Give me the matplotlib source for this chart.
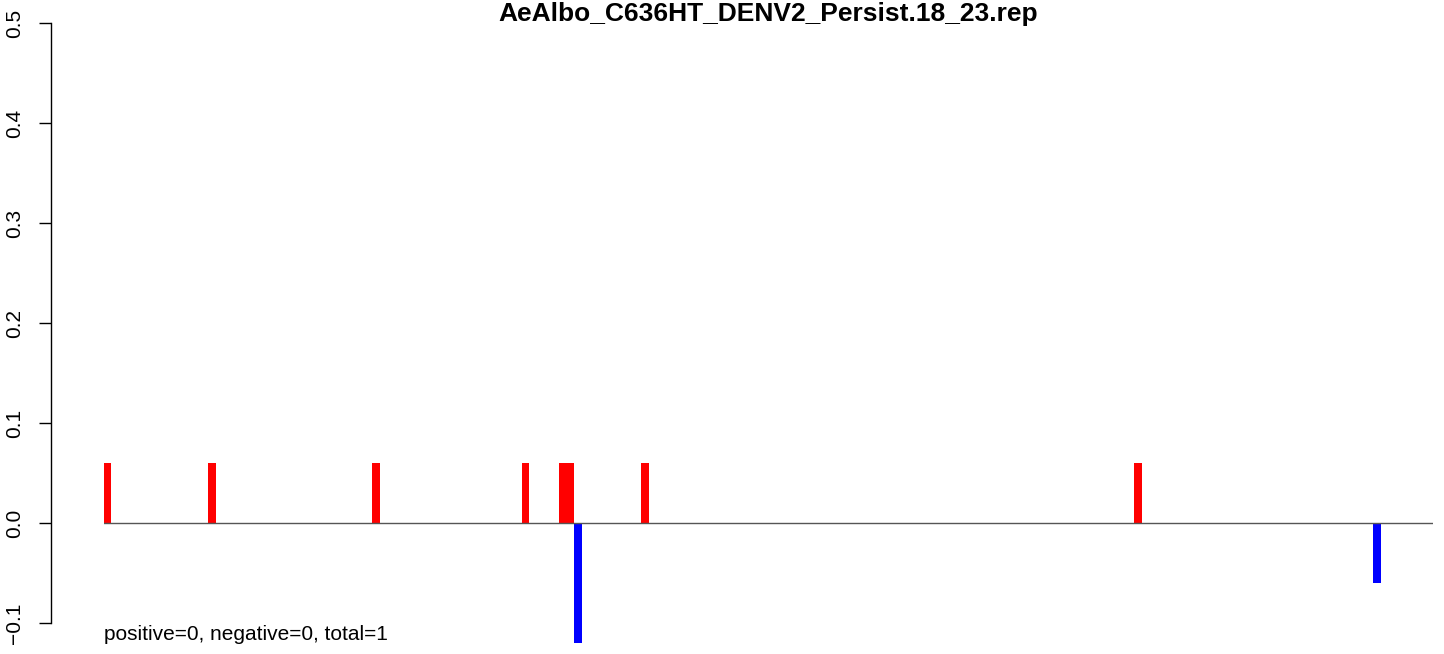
import matplotlib
matplotlib.use("Agg")
import matplotlib.pyplot as plt

# positions along the sequence (bar index) and their values
pos_idx = [0, 14, 36, 56, 61, 62, 72, 138]
pos_val = [0.06, 0.06, 0.06, 0.06, 0.06, 0.06, 0.06, 0.06]
neg_idx = [63, 170]
neg_val = [-0.12, -0.06]
seq_len = 178

title = "AeAlbo_C636HT_DENV2_Persist.18_23.rep"
note = "positive=0, negative=0, total=1"
yticks = [-0.1, 0.0, 0.1, 0.2, 0.3, 0.4, 0.5]

plt.rcParams['font.family'] = ['Liberation Sans', 'DejaVu Sans']

fig = plt.figure(figsize=(14.44, 6.54), dpi=100)
ax = fig.add_axes([103.5 / 1444, 0, (1433 - 103.5) / 1444, 1])

ax.bar(pos_idx, pos_val, width=1, align='edge', color='#ff0000', linewidth=0)
ax.bar(neg_idx, neg_val, width=1, align='edge', color='#0000ff', linewidth=0)
ax.plot([0, seq_len], [0, 0], color='#555555', linewidth=1, zorder=3)

ax.set_xlim(0, seq_len)
ax.set_ylim(-0.131, 0.523)

for s in ['top', 'right', 'bottom']:
    ax.spines[s].set_visible(False)
# y axis sits left of the plotted region, R style
ax.spines['left'].set_position(('outward', 38))
ax.spines['left'].set_bounds(-0.1, 0.5)
ax.spines['left'].set_linewidth(1)
ax.set_xticks([])
ax.set_yticks(yticks)
ax.set_yticklabels([f"{t:.1f}".replace("-", "\u2212") for t in yticks],
                   rotation=90, va='center', fontsize=15)
ax.tick_params(axis='y', length=9, width=1, pad=10)

fig.text(768 / 1444, 1 - 14 / 654, title, fontsize=19, fontweight='bold',
         ha='center', va='center')
ax.text(0.1, -0.112, note, fontsize=15, ha='left', va='center')

fig.savefig("out.png", dpi=100)
